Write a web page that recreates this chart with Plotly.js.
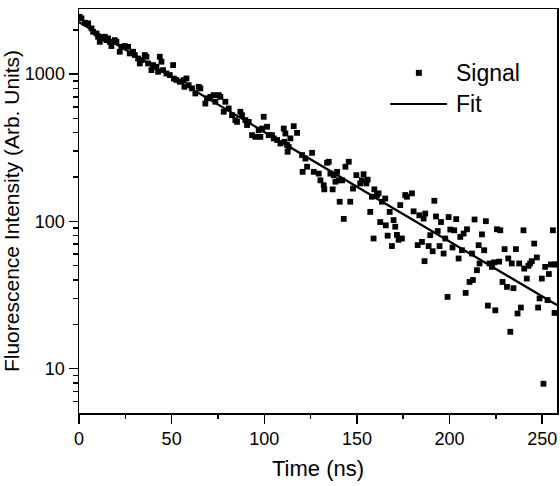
<!DOCTYPE html>
<html>
<head>
<meta charset="utf-8">
<script src="https://cdn.plot.ly/plotly-3.0.1.min.js"></script>
<style>
  html, body { margin: 0; padding: 0; background: #fff; }
  #chart { width: 560px; height: 486px; }
</style>
</head>
<body>
<div id="chart"></div>
<script>
// Measured signal (time in ns, fluorescence intensity in arb. units)
const signalTime = [
  0.3, 1.35, 3.15, 4.94, 6.74, 7.64, 9.44, 10.3, 11.2, 12.1, 13.9, 14.8, 15.7, 16.6, 17.5, 19.3, 20.2,
  22.0, 22.9, 24.7, 26.5, 27.4, 29.2, 30.1, 31.9, 32.8, 33.7, 35.5, 36.4, 37.3, 39.1, 40.0, 41.8, 42.7,
  43.6, 44.5, 45.4, 47.2, 49.0, 50.8, 51.2, 52.6, 54.4,
  56.5, 56.9, 58.0, 59.2, 61.0, 62.8, 64.6, 65.5, 68.2, 69.1, 70.9, 72.7, 73.6, 75.4, 76.3, 78.1, 79.0,
  80.8, 82.6, 84.4, 85.3, 87.1, 88.0, 89.8, 90.7, 91.6, 93.4, 95.2, 97.0, 97.9, 98.8, 99.7, 101.5, 102.4,
  104.2, 105.1, 106.9, 108.7, 110.5, 110.9, 111.4, 112.3, 112.6, 113.2, 114.1, 115.9, 117.7,
  120.4, 120.7, 122.2, 123.1, 125.8, 126.7, 129.4, 130.3, 132.1, 132.4, 133.9, 134.8, 135.7, 136.9,
  137.5, 138.4, 139.3, 140.2, 140.7, 142.0, 142.9, 143.8, 145.6, 146.4, 147.9, 149.7, 151.8, 152.7,
  153.6, 155.1, 155.8, 157.2, 158.1, 159.0, 159.4, 160.8, 161.7, 162.6, 163.5, 165.3, 165.6, 166.6,
  167.7, 168.9, 169.8, 170.7, 171.6, 172.5, 173.4, 174.3, 176.1, 177.0, 179.7, 180.6, 182.8, 183.7,
  185.1, 186.0, 186.5, 186.9, 188.7, 189.6, 190.9, 191.8, 192.7, 193.6, 194.6, 195.4, 196.8, 197.7,
  198.9, 199.5, 200.4, 201.6, 202.5, 203.6, 204.9, 205.8, 206.7, 207.6, 208.7, 209.4, 210.8, 212.1,
  212.6, 213.5, 214.8, 215.7, 216.2, 217.5, 218.7, 219.6, 220.7, 221.6, 222.9, 224.1, 224.7, 225.6,
  226.8, 227.4, 228.6, 229.7, 231.0, 231.7, 232.8, 233.6, 234.5, 235.8, 236.7, 237.6, 238.5, 239.9,
  240.3, 241.7, 242.6, 243.5, 244.4, 245.7, 247.1, 247.8, 248.6, 249.8, 250.7, 251.6, 252.9, 253.6,
  254.7, 255.8, 256.7, 257.0, 257.8
];
const signalCounts = [
  2450, 2389, 2231, 2210, 2044, 1937, 1888, 1793, 1657, 1747, 1793, 1701, 1747, 1657, 1551, 1701, 1657,
  1418, 1532, 1551, 1532, 1382, 1418, 1347, 1276, 1181, 1243, 1347, 1312, 1181, 1064, 1151, 1121, 1037,
  1312, 1214, 1064, 1009, 985, 1151, 933, 912, 887,
  910, 820, 934, 841, 800, 739, 820, 800, 631, 684, 701, 720, 649, 720, 701, 555, 649,
  584, 526, 487, 474, 555, 526, 487, 451, 474, 385, 375, 416, 375, 427, 513, 439, 385,
  385, 366, 357, 338, 427, 347, 395, 330, 297, 320, 366, 443, 399,
  282, 217, 267, 235, 292, 217, 211, 190, 176, 165, 250, 254, 211, 165,
  206, 186, 217, 190, 136, 190, 104, 235, 254, 136, 167, 206, 181, 190,
  209, 181, 192, 116, 147, 76.5, 165, 151, 155, 99, 136, 143, 94, 80,
  116, 68, 102, 92, 81, 75, 129, 76.5, 151, 147, 155, 117, 69, 110,
  72.6, 104.5, 53.7, 113, 68, 80.6, 62.7, 138, 108, 86, 68, 99, 60.5, 76.5,
  30.7, 107, 88, 66.5, 87, 103.6, 56, 78.5, 63.7, 82.7, 32.7, 88.4, 38.8, 60.5,
  40.0, 103, 46.6, 68.9, 51.8, 81.6, 63.7, 100.3, 26.8, 51.8, 49.1, 52.7, 24.9, 88.4,
  53.3, 87, 38.8, 64.8, 35.9, 56, 17.8, 51.8, 35.2, 64.8, 23.7, 51.8, 26.0, 87,
  47.8, 40.9, 49.9, 51.8, 53.7, 70.7, 56.9, 26.0, 30.0, 40.9, 7.9, 49.1, 29.2, 43.9,
  51.0, 87, 23.9, 51.0, 51.0
];
// Single-exponential fit (straight on the log axis): end points
const fitTime = [0, 258];
const fitCounts = [2250, 27];

// Axis ticks
const xTickVals = [0, 50, 100, 150, 200, 250];
const xMinorVals = [25, 75, 125, 175, 225];
const yTickVals = [10, 100, 1000];
const yTickText = ['10', '100', '1000'];
const yMinorVals = [6, 7, 8, 9, 20, 30, 40, 50, 60, 70, 80, 90, 200, 300, 400, 500, 600, 700, 800, 900, 2000];

const legendNames = ['Signal', 'Fit'];

const FONT = 'Liberation Sans, Arial, Helvetica, sans-serif';

const traces = [
  {
    x: signalTime, y: signalCounts, type: 'scatter', mode: 'markers', name: legendNames[0],
    marker: { symbol: 'square', size: 5.8, color: '#000' }, showlegend: false
  },
  {
    x: fitTime, y: fitCounts, type: 'scatter', mode: 'lines', name: legendNames[1],
    line: { color: '#000', width: 2.3 }, showlegend: false
  }
];

const layout = {
  width: 560, height: 486,
  margin: { l: 79, r: 3, t: 9, b: 73 },
  paper_bgcolor: '#fff', plot_bgcolor: '#fff',
  font: { family: FONT, color: '#000' },
  showlegend: false,
  xaxis: {
    range: [0, 258],
    tickmode: 'array', tickvals: xTickVals,
    ticks: 'outside', ticklen: 9, tickwidth: 1.5, tickcolor: '#000',
    minor: { tickmode: 'array', tickvals: xMinorVals, ticks: 'outside', ticklen: 4, tickwidth: 1.5, tickcolor: '#000', showgrid: false },
    showline: true, linecolor: '#000', linewidth: 1.5, mirror: true,
    showgrid: false, zeroline: false,
    tickfont: { size: 18, family: FONT },
    title: { text: 'Time (ns)', font: { size: 22, family: FONT }, standoff: 12 }
  },
  yaxis: {
    type: 'log',
    range: [0.699, 3.442],
    tickmode: 'array', tickvals: yTickVals, ticktext: yTickText,
    ticks: 'outside', ticklen: 9, tickwidth: 1.5, tickcolor: '#000',
    minor: { tickmode: 'array', tickvals: yMinorVals, ticks: 'outside', ticklen: 5, tickwidth: 1.5, tickcolor: '#000', showgrid: false },
    showline: true, linecolor: '#000', linewidth: 1.5, mirror: true,
    showgrid: false, zeroline: false,
    tickfont: { size: 18, family: FONT },
    title: { text: 'Fluorescence Intensity (Arb. Units)', font: { size: 21, family: FONT }, standoff: 10 }
  },
  shapes: [
    // legend symbol: square marker for Signal
    { type: 'rect', xref: 'paper', yref: 'paper', xsizemode: 'pixel', ysizemode: 'pixel',
      xanchor: 0.711, yanchor: 0.842, x0: -3, x1: 3, y0: -3, y1: 3,
      fillcolor: '#000', line: { width: 0 } },
    // legend symbol: line for Fit
    { type: 'line', xref: 'paper', yref: 'paper', x0: 0.651, x1: 0.770, y0: 0.765, y1: 0.765,
      line: { color: '#000', width: 2 } }
  ],
  annotations: [
    { xref: 'paper', yref: 'paper', x: 0.784, y: 0.842, xanchor: 'left', yanchor: 'middle',
      text: legendNames[0], showarrow: false, font: { size: 23, family: FONT } },
    { xref: 'paper', yref: 'paper', x: 0.784, y: 0.765, xanchor: 'left', yanchor: 'middle',
      text: legendNames[1], showarrow: false, font: { size: 23, family: FONT } }
  ]
};

Plotly.newPlot('chart', traces, layout, { staticPlot: true, displayModeBar: false });
</script>
</body>
</html>
